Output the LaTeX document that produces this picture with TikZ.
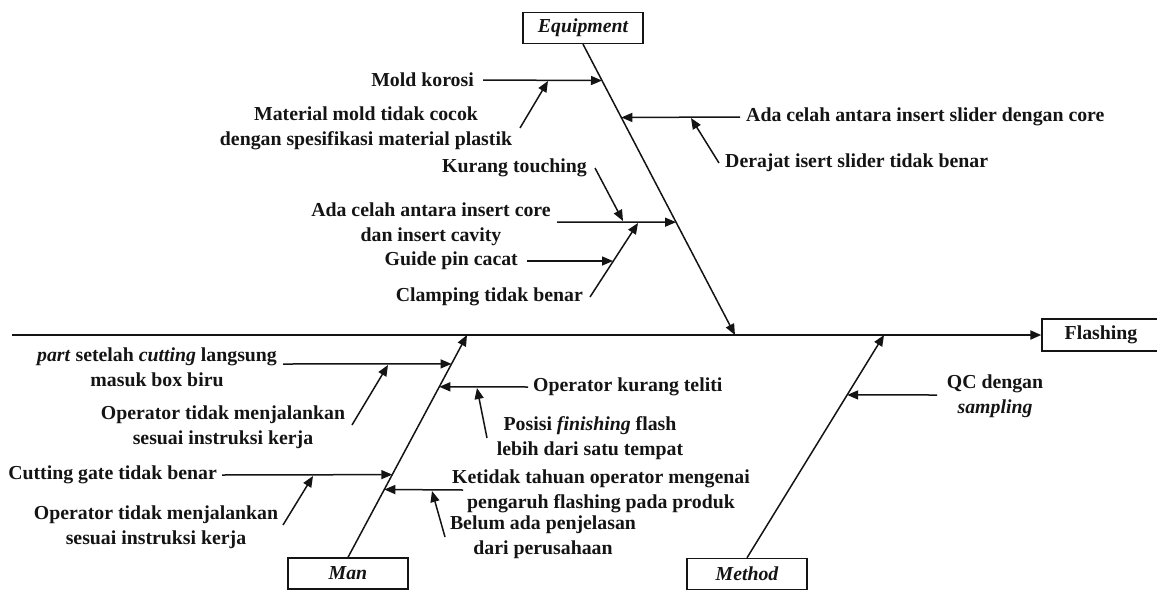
\documentclass[tikz,border=0pt]{standalone}
\usepackage{fontspec}
\setmainfont{Liberation Serif}
\usepackage{tikz}
\usetikzlibrary{arrows.meta,positioning,calc}
\definecolor{ink}{RGB}{20,20,20}
\newcommand{\fbsize}{\fontsize{19.8}{25}\selectfont}
\tikzset{
  cat/.style={draw=ink,line width=1.4pt,minimum width=120pt,minimum height=31pt,inner sep=0pt,font=\fbsize\bfseries\itshape},
  eff/.style={draw=ink,line width=1.4pt,minimum width=118pt,minimum height=32pt,inner sep=0pt,font=\fbsize\bfseries},
  cause/.style={inner sep=0pt,align=center,font=\fbsize\bfseries},
  arr/.style={-{Triangle[length=11pt,width=9pt]},line width=1.5pt,draw=ink},
  spine/.style={-{Triangle[length=11pt,width=9pt]},line width=2pt,draw=ink},
}

\begin{document}
\begin{tikzpicture}[x=1pt,y=-1pt,every node/.style={text=ink}]
  \useasboundingbox (0,0) rectangle (1157,592);

  % Head and spine
  \node[eff] (flash) at (1101,335){Flashing};
  \coordinate (tail) at (12,335);
  \draw[spine](tail)--(flash.west);

  % Categories
  \node[cat] (equip) at (583,28){Equipment};
  \node[cat] (man) at (348,573.5){Man};
  \node[cat] (meth) at (747,574){Method};
  \coordinate (eqend) at (735,335);
  \coordinate (manend) at (467,335);
  \coordinate (methend) at (884,335);
  \draw[arr](equip.south)--(eqend);
  \draw[arr](man.north)--(manend);
  \draw[arr](meth.north)--(methend);

  % Equipment causes
  \coordinate (e1) at ($(equip.south)!0.125!(eqend)$);
  \coordinate (e2) at ($(equip.south)!0.252!(eqend)$);
  \coordinate (e3) at ($(equip.south)!0.612!(eqend)$);
  \node[cause,anchor=east] (mold) at (474,80){Mold korosi};
  \node[cause] (mat) at (366,128){Material mold tidak cocok\\dengan spesifikasi material plastik};
  \node[cause,anchor=west] (slider) at (746,117){Ada celah antara insert slider dengan core};
  \node[cause,anchor=west] (derajat) at (725,163){Derajat isert slider tidak benar};
  \node[cause,anchor=east] (kurang) at (587,168){Kurang touching};
  \node[cause] (celah) at (431,224){Ada celah antara insert core\\dan insert cavity};
  \node[cause,anchor=east] (guide) at (518,261){Guide pin cacat};
  \node[cause,anchor=east] (clamp) at (583,297){Clamping tidak benar};
  \coordinate (mold0) at (483,80);
  \coordinate (mat0) at (520,128);
  \coordinate (mat1) at (548,81);
  \coordinate (slider0) at (740,117);
  \coordinate (der0) at (719,163);
  \coordinate (der1) at (691,118);
  \coordinate (kur0) at (595,168);
  \coordinate (kur1) at (623,221);
  \coordinate (celah0) at (557,222);
  \coordinate (guide0) at (527,261);
  \coordinate (guide1) at (613,261);
  \coordinate (clamp0) at (590,297);
  \coordinate (clamp1) at (638,223);
  \draw[arr](mold0)--(e1);\draw[arr](mat0)--(mat1);
  \draw[arr](slider0)--(e2);\draw[arr](der0)--(der1);
  \draw[arr](celah0)--(e3);\draw[arr](kur0)--(kur1);
  \draw[arr](clamp0)--(clamp1);\draw[arr](guide0)--(guide1);

  % Man causes
  \coordinate (m1) at ($(man.north)!0.870!(manend)$);
  \coordinate (m2) at ($(man.north)!0.767!(manend)$);
  \coordinate (m3) at ($(man.north)!0.372!(manend)$);
  \coordinate (m4) at ($(man.north)!0.305!(manend)$);
  \node[cause] (part) at (157,367){\textit{part} setelah \textit{cutting} langsung\\masuk box biru};
  \node[cause] (opr1) at (223,427){Operator tidak menjalankan\\sesuai instruksi kerja};
  \node[cause,anchor=west] (teliti) at (533,387){Operator kurang teliti};
  \node[cause] (posisi) at (590,438){Posisi \textit{finishing} flash\\lebih dari satu tempat};
  \node[cause,anchor=east] (cutting) at (217,475){Cutting gate tidak benar};
  \node[cause] (opr2) at (156,527){Operator tidak menjalankan\\sesuai instruksi kerja};
  \node[cause] (ketidak) at (601,491){Ketidak tahuan operator mengenai\\pengaruh flashing pada produk};
  \node[cause] (belum) at (543,537){Belum ada penjelasan\\dari perusahaan};
  \coordinate (part0) at (283,364);
  \coordinate (opr10) at (352,425);
  \coordinate (opr11) at (388,365);
  \coordinate (tel0) at (528,387);
  \coordinate (pos0) at (487,438);
  \coordinate (pos1) at (477,388);
  \coordinate (cut0) at (222,475);
  \coordinate (opr20) at (283,525);
  \coordinate (opr21) at (313,476);
  \coordinate (ket0) at (463,490);
  \coordinate (bel0) at (445,537);
  \coordinate (bel1) at (432,491);
  \draw[arr](part0)--(m1);\draw[arr](opr10)--(opr11);
  \draw[arr](tel0)--(m2);\draw[arr](pos0)--(pos1);
  \draw[arr](cut0)--(m3);\draw[arr](opr20)--(opr21);
  \draw[arr](ket0)--(m4);\draw[arr](bel0)--(bel1);

  % Method cause
  \coordinate (n1) at ($(meth.north)!0.731!(methend)$);
  \node[cause] (qc) at (995,396){QC dengan\\\textit{sampling}};
  \coordinate (qc0) at (937,395);
  \draw[arr](qc0)--(n1);
\end{tikzpicture}
\end{document}
